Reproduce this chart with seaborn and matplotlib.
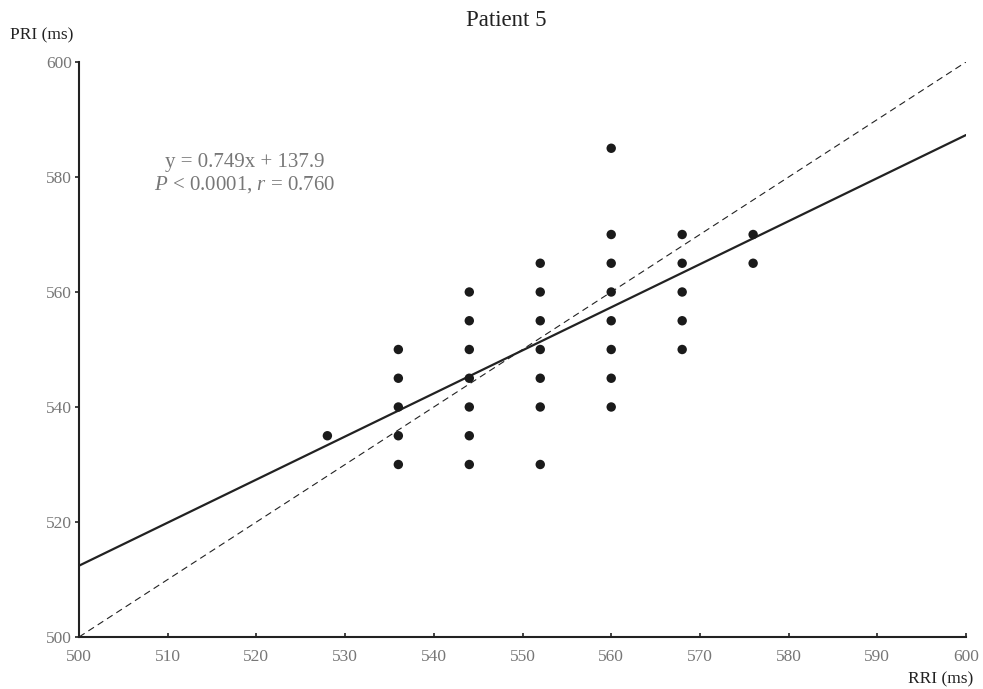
import numpy as np
import pandas as pd
import seaborn as sns
import matplotlib.pyplot as plt

# RR interval (x) and PR interval (y) readings, ms
rri = [528,
       536, 536, 536, 536, 536,
       544, 544, 544, 544, 544, 544, 544,
       552, 552, 552, 552, 552, 552, 552,
       560, 560, 560, 560, 560, 560, 560, 560,
       568, 568, 568, 568, 568,
       576, 576]
pri = [535,
       550, 545, 540, 535, 530,
       560, 555, 550, 545, 540, 535, 530,
       565, 560, 555, 550, 545, 540, 530,
       585, 570, 565, 560, 555, 550, 545, 540,
       570, 565, 560, 555, 550,
       570, 565]

slope = 0.749
intercept = 137.9
x_ticks = list(range(500, 601, 10))
y_ticks = list(range(500, 601, 20))

df = pd.DataFrame({'RRI': rri, 'PRI': pri})

sns.set_style('white')
plt.rcParams['font.family'] = ['Liberation Serif', 'DejaVu Serif']
plt.rcParams['mathtext.fontset'] = 'custom'
plt.rcParams['mathtext.it'] = 'Liberation Serif:italic'
plt.rcParams['mathtext.rm'] = 'Liberation Serif'

fig = plt.figure(figsize=(9.83, 6.89), dpi=100)
ax = fig.add_axes([0.0804, 0.0755, 0.9023, 0.8345])

# identity line and fitted regression line
line_x = np.array([500, 600])
ax.plot(line_x, line_x, color='#222222', lw=0.8, ls=(0, (6, 4)), zorder=1)
ax.plot(line_x, slope * line_x + intercept, color='#222222', lw=1.6, zorder=2)

sns.scatterplot(data=df, x='RRI', y='PRI', ax=ax, color='#1a1a1a',
                s=46, edgecolor='none', zorder=3)

ax.set_xlim(500, 600)
ax.set_ylim(500, 600)
ax.set_xticks(x_ticks)
ax.set_yticks(y_ticks)
ax.set_xlabel('')
ax.set_ylabel('')

sns.despine(ax=ax)
for side in ['left', 'bottom']:
    ax.spines[side].set_color('#222222')
    ax.spines[side].set_linewidth(1.5)

ax.tick_params(axis='x', bottom=True, direction='in', length=3, width=1.2,
               color='#222222', labelcolor='#777777', labelsize=12.5, pad=9)
ax.tick_params(axis='y', left=True, direction='out', length=3, width=1.2,
               color='#222222', labelcolor='#777777', labelsize=12.5, pad=2)

ax.text(0.187, 0.805, 'y = 0.749x + 137.9\n$\\mathit{P}$ < 0.0001, $\\mathit{r}$ = 0.760',
        transform=ax.transAxes, ha='center', va='center', fontsize=15,
        color='#777777', linespacing=1.1)

fig.text(0.515, 0.970, 'Patient 5', ha='center', va='center', fontsize=16.5,
         color='#222222')
fig.text(0.01, 0.949, 'PRI (ms)', ha='left', va='center', fontsize=12.5,
         color='#222222')
fig.text(0.99, 0.014, 'RRI (ms)', ha='right', va='center', fontsize=12.5,
         color='#222222')

fig.savefig('out.png', dpi=100)
